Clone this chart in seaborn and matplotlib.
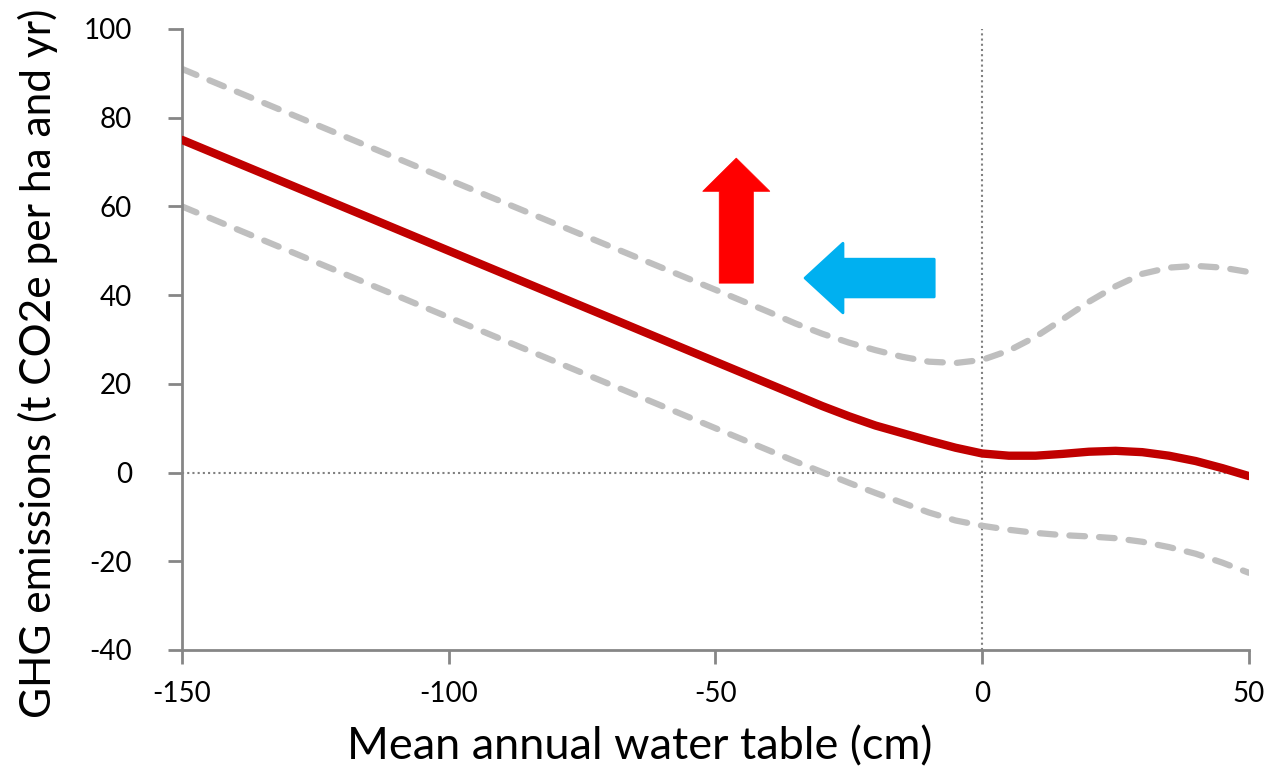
import matplotlib
matplotlib.use("Agg")
import matplotlib.pyplot as plt
from matplotlib.patches import FancyArrow
import seaborn as sns
import pandas as pd

# Valores (nivel freatico en cm, emisiones en t CO2e/ha/a)
water_table = [-150, -100, -50, -40, -35, -30, -25, -20, -15, -10, -5, 0,
               5, 10, 15, 20, 25, 30, 35, 40, 45, 50]
ghg_mean = [75, 50, 25, 20, 17.5, 15.0, 12.7, 10.6, 8.9, 7.2, 5.6, 4.3,
            3.8, 3.8, 4.2, 4.7, 4.9, 4.6, 3.8, 2.6, 1.0, -0.8]
ghg_upper = [91, 66, 41.2, 36.2, 33.6, 31.3, 29.3, 27.6, 26.1, 25.0, 24.7, 25.4,
             27.5, 30.6, 34.5, 38.5, 42, 44.8, 46.2, 46.6, 46.2, 45.2]
ghg_lower = [60, 35, 10.0, 5.0, 2.5, 0.1, -2.3, -4.6, -6.8, -9.0, -10.8, -12.0,
             -12.9, -13.6, -14.1, -14.4, -14.8, -15.6, -16.8, -18.3, -20.3, -22.6]

x_ticks = [-150, -100, -50, 0, 50]
y_ticks = [-40, -20, 0, 20, 40, 60, 80, 100]

# Flechas (posiciones en unidades de datos)
red_arrow = dict(x=-46.1, y=42.7, dx=0, dy=28.2, width=6.4, head_width=12.6, head_length=7.5)
blue_arrow = dict(x=-9.0, y=43.85, dx=-24.2, dy=0, width=8.5, head_width=15.7, head_length=7.1)

df = pd.DataFrame({"wt": water_table, "mean": ghg_mean,
                   "upper": ghg_upper, "lower": ghg_lower})

sns.set_style("white")
plt.rcParams.update({
    "font.family": ["Lato", "DejaVu Sans"],
    "axes.unicode_minus": False,
    "text.color": "black",
    "axes.labelcolor": "black",
    "xtick.bottom": True,
    "ytick.left": True,
    "xtick.major.size": 10,
    "ytick.major.size": 10,
    "xtick.major.width": 2,
    "ytick.major.width": 2,
    "xtick.color": "#868686",
    "ytick.color": "#868686",
    "xtick.labelcolor": "black",
    "ytick.labelcolor": "black",
    "xtick.direction": "out",
    "ytick.direction": "out",
})

fig = plt.figure(figsize=(12.79, 7.75), dpi=100)
ax = fig.add_axes([0.1423, 0.1613, 0.8342, 0.8013])

# Lineas de referencia punteadas en 0
ax.axhline(0, color="#808080", lw=1.5, ls=(0, (1, 1.5)), zorder=1)
ax.axvline(0, color="#808080", lw=1.5, ls=(0, (1, 1.5)), zorder=1)

for col in ["upper", "lower"]:
    sns.lineplot(data=df, x="wt", y=col, ax=ax, color="#BFBFBF", lw=4.5, zorder=2)
for line in ax.lines[2:]:
    line.set_dashes([2.5, 2.25])
    line.set_dash_capstyle("round")

sns.lineplot(data=df, x="wt", y="mean", ax=ax, color="#C00000", lw=6, zorder=3)
ax.lines[-1].set_solid_capstyle("round")
ax.lines[-1].set_solid_joinstyle("round")

ax.add_patch(FancyArrow(**red_arrow, length_includes_head=True,
                        facecolor="#FF0000", edgecolor="#FF0000", lw=0.5, zorder=4))
ax.add_patch(FancyArrow(**blue_arrow, length_includes_head=True,
                        facecolor="#00B0F0", edgecolor="#00B0F0", lw=2,
                        joinstyle="round", zorder=4))

ax.set_xlim(-150, 50)
ax.set_ylim(-40, 100)
ax.set_xticks(x_ticks)
ax.set_yticks(y_ticks)
ax.tick_params(axis="both", labelsize=20)
ax.tick_params(axis="x", pad=12)
ax.tick_params(axis="y", pad=26)

for side in ["top", "right"]:
    ax.spines[side].set_visible(False)
for side in ["left", "bottom"]:
    ax.spines[side].set_color("#868686")
    ax.spines[side].set_linewidth(2)

ax.set_xlabel("Mean annual water table (cm)", fontsize=32.5)
ax.set_ylabel("GHG emissions (t CO2e per ha and yr)", fontsize=30.5)
ax.xaxis.set_label_coords(0.429, -0.122)
ax.yaxis.set_label_coords(-0.116, 0.462)

fig.savefig("out.png", dpi=100)
